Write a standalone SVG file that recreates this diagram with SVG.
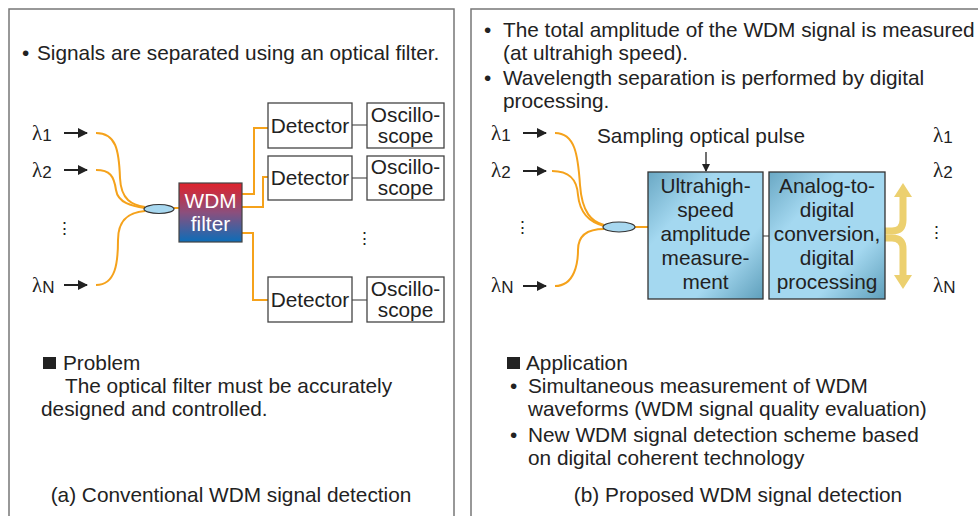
<svg xmlns="http://www.w3.org/2000/svg" width="978" height="516" viewBox="0 0 978 516">
<defs>
<style>
text{font-family:"Liberation Sans",Arial,sans-serif;font-size:20.8px;fill:#222}
.c{text-anchor:middle}
.lam{font-family:"Liberation Serif","DejaVu Serif",serif;font-size:21px}
.sub{font-family:"Liberation Sans",Arial,sans-serif;font-size:17px}
.dots{font-size:17px}
.fib{fill:none;stroke:#f5a21b;stroke-width:2}
.box{fill:#fff;stroke:#444;stroke-width:1.3}
.gl{fill:none;stroke:#777;stroke-width:1.5}
.blk{fill:none;stroke:#222;stroke-width:2}
.bb{fill:url(#blue);stroke:#333;stroke-width:1.3}
.yel{fill:none;stroke:#ecd06f;stroke-width:7}
</style>
<linearGradient id="rb" x1="0" y1="0" x2="0" y2="1">
<stop offset="0" stop-color="#e0222a"/><stop offset="0.5" stop-color="#8b4f7d"/><stop offset="1" stop-color="#0c6db8"/>
</linearGradient>
<linearGradient id="blue" x1="0" y1="0" x2="1" y2="1">
<stop offset="0" stop-color="#6aa8c4"/><stop offset="0.3" stop-color="#a4d8f0"/><stop offset="0.7" stop-color="#a4d8f0"/><stop offset="1" stop-color="#5f9fbb"/>
</linearGradient>
<marker id="ah" markerWidth="10" markerHeight="10" refX="9" refY="5" orient="auto" markerUnits="userSpaceOnUse">
<path d="M0,0 L10,5 L0,10 Z" fill="#222"/>
</marker>
<marker id="ahs" markerWidth="8" markerHeight="8" refX="7" refY="4" orient="auto" markerUnits="userSpaceOnUse">
<path d="M0,0 L8,4 L0,8 Z" fill="#222"/>
</marker>
</defs>
<rect width="978" height="516" fill="#fff"/>
<g id="panels">
<path d="M9,520 V9 H454 V520" fill="none" stroke="#777" stroke-width="1.5"/>
<path d="M471,520 V9 H980" fill="none" stroke="#777" stroke-width="1.5"/>
</g>

<!-- Left panel -->
<g id="left-text">
<text x="22" y="60">•</text><text x="37" y="60">Signals are separated using an optical filter.</text>
<rect x="43" y="357" width="13" height="12" fill="#222"/>
<text x="63" y="370">Problem</text>
<text x="65" y="393">The optical filter must be accurately</text>
<text x="41" y="416">designed and controlled.</text>
<text x="231" y="502" class="c">(a) Conventional WDM signal detection</text>
</g>
<g id="left-inputs">
<text x="32" y="140" class="lam">λ<tspan class="sub" dy="1">1</tspan></text>
<text x="32" y="177" class="lam">λ<tspan class="sub" dy="1">2</tspan></text>
<text x="32" y="292" class="lam">λ<tspan class="sub" dy="1">N</tspan></text>
<text x="64" y="234" class="c dots">⋮</text>
</g>
<g id="connectors">
<line x1="64" y1="133" x2="87" y2="133" class="blk" marker-end="url(#ah)"/>
<line x1="64" y1="170" x2="87" y2="170" class="blk" marker-end="url(#ah)"/>
<line x1="64" y1="285" x2="87" y2="285" class="blk" marker-end="url(#ah)"/>
<path class="fib" d="M96,133 C116,133 119,150 120,178 C121,200 132,205 145,207"/>
<path class="fib" d="M96,170 C110,170 114,176 116,190 C118,203 132,206 145,208"/>
<path class="fib" d="M96,285 C116,285 118,262 118,240 C118,217 132,212 145,211"/>
<line x1="174" y1="208" x2="179" y2="208" class="fib"/>
<path class="fib" d="M242,194 H254 V128 H268"/>
<path class="fib" d="M242,207 H263 V177 H268"/>
<path class="fib" d="M242,233 H253 V300 H268"/>
<line x1="352" y1="125" x2="367" y2="125" class="gl"/>
<line x1="352" y1="178" x2="367" y2="178" class="gl"/>
<line x1="352" y1="300" x2="367" y2="300" class="gl"/>

<line x1="523" y1="133" x2="546" y2="133" class="blk" marker-end="url(#ah)"/>
<line x1="523" y1="171" x2="546" y2="171" class="blk" marker-end="url(#ah)"/>
<line x1="523" y1="286" x2="546" y2="286" class="blk" marker-end="url(#ah)"/>
<path class="fib" d="M555,133 C575,133 578,155 580,185 C582,213 592,222 604,225"/>
<path class="fib" d="M552,171 C570,171 577,180 578,195 C580,215 592,223 604,226"/>
<path class="fib" d="M555,286 C575,286 578,262 578,250 C578,233 590,229 604,229"/>
<line x1="635" y1="227" x2="648" y2="227" class="fib"/>
<line x1="763" y1="236" x2="769" y2="236" class="gl"/>
<line x1="706" y1="152" x2="706" y2="171" stroke="#222" stroke-width="1.3" marker-end="url(#ahs)"/>
<path class="yel" d="M885,231 H892 Q903,231 903,220 V196"/>
<polygon points="894,197 912,197 903,183" fill="#ecd06f"/>
<path class="yel" d="M885,238 H892 Q903,238 903,249 V275"/>
<polygon points="894,275 912,275 903,289" fill="#ecd06f"/>
</g>
<g id="coupler-a"><ellipse cx="159" cy="209" rx="15" ry="4.5" fill="#a8d8f0" stroke="#333" stroke-width="1.2"/></g>
<g id="wdm-filter">
<rect x="179" y="183" width="63" height="59" fill="url(#rb)" stroke="#444" stroke-width="1.2"/>
<text x="210.5" y="208" class="c" style="fill:#fff">WDM</text>
<text x="210.5" y="231" class="c" style="fill:#fff">filter</text>
</g>
<g id="det1"><rect class="box" x="268" y="103" width="84" height="45"/><text x="310" y="133" class="c">Detector</text></g>
<g id="det2"><rect class="box" x="268" y="156" width="84" height="44"/><text x="310" y="185" class="c">Detector</text></g>
<g id="det3"><rect class="box" x="268" y="277" width="84" height="45"/><text x="310" y="307" class="c">Detector</text></g>
<g id="osc1"><rect class="box" x="367" y="103" width="77" height="45"/><text x="405.5" y="122" class="c">Oscillo-</text><text x="405.5" y="143" class="c">scope</text></g>
<g id="osc2"><rect class="box" x="367" y="156" width="77" height="44"/><text x="405.5" y="174" class="c">Oscillo-</text><text x="405.5" y="195" class="c">scope</text></g>
<g id="osc3"><rect class="box" x="367" y="277" width="77" height="45"/><text x="405.5" y="296" class="c">Oscillo-</text><text x="405.5" y="317" class="c">scope</text></g>
<text x="364" y="244" class="c dots">⋮</text>

<!-- Right panel -->
<g id="right-text">
<text x="484" y="37">•</text><text x="503" y="37">The total amplitude of the WDM signal is measured</text>
<text x="503" y="60">(at ultrahigh speed).</text>
<text x="484" y="85">•</text><text x="503" y="85">Wavelength separation is performed by digital</text>
<text x="503" y="108">processing.</text>
<rect x="507" y="357" width="13" height="12" fill="#222"/>
<text x="526" y="370">Application</text>
<text x="510" y="393">•</text><text x="528" y="393">Simultaneous measurement of WDM</text>
<text x="528" y="416">waveforms (WDM signal quality evaluation)</text>
<text x="510" y="442">•</text><text x="528" y="442">New WDM signal detection scheme based</text>
<text x="528" y="465">on digital coherent technology</text>
<text x="738" y="502" class="c">(b) Proposed WDM signal detection</text>
<text x="701" y="143" class="c">Sampling optical pulse</text>
</g>
<g id="right-inputs">
<text x="491" y="140" class="lam">λ<tspan class="sub" dy="1">1</tspan></text>
<text x="491" y="177" class="lam">λ<tspan class="sub" dy="1">2</tspan></text>
<text x="491" y="292" class="lam">λ<tspan class="sub" dy="1">N</tspan></text>
<text x="522" y="233" class="c dots">⋮</text>
</g>
<g id="right-outputs">
<text x="933" y="142" class="lam">λ<tspan class="sub" dy="1">1</tspan></text>
<text x="933" y="177" class="lam">λ<tspan class="sub" dy="1">2</tspan></text>
<text x="933" y="292" class="lam">λ<tspan class="sub" dy="1">N</tspan></text>
<text x="936" y="238" class="c dots">⋮</text>
</g>
<g id="coupler-b"><ellipse cx="619" cy="227" rx="16" ry="5" fill="#a8d8f0" stroke="#333" stroke-width="1.2"/></g>
<g id="amp-meas">
<rect class="bb" x="648" y="172" width="115" height="127"/>
<text x="705.5" y="193" class="c">Ultrahigh-</text>
<text x="705.5" y="217" class="c">speed</text>
<text x="705.5" y="241" class="c">amplitude</text>
<text x="705.5" y="265" class="c">measure-</text>
<text x="705.5" y="289" class="c">ment</text>
</g>
<g id="adc">
<rect class="bb" x="769" y="172" width="116" height="127"/>
<text x="827" y="193" class="c">Analog-to-</text>
<text x="827" y="217" class="c">digital</text>
<text x="827" y="241" class="c">conversion,</text>
<text x="827" y="265" class="c">digital</text>
<text x="827" y="289" class="c">processing</text>
</g>
</svg>
